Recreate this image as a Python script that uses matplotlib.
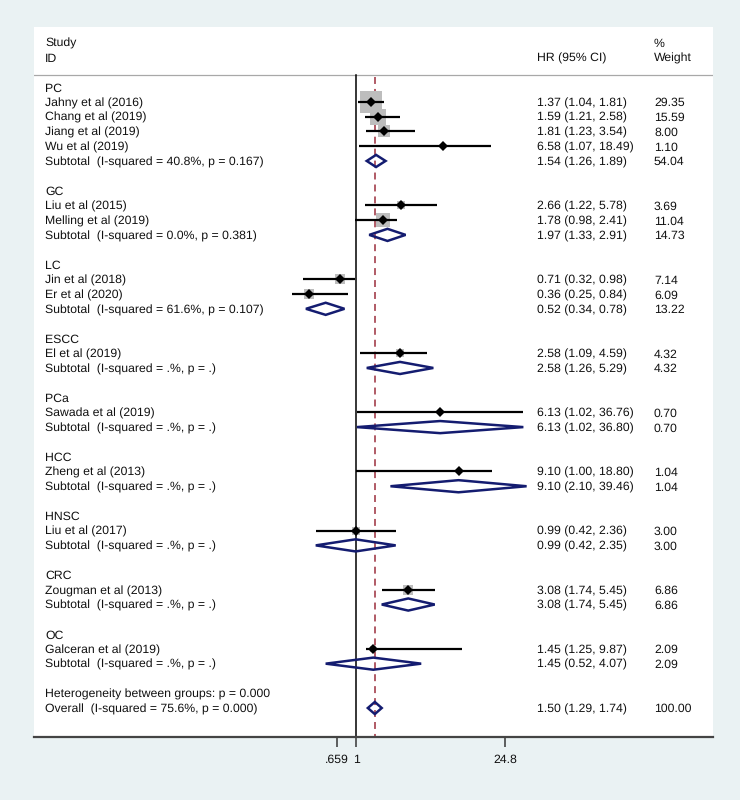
import numpy as np
import matplotlib.pyplot as plt
from matplotlib.patches import Polygon
from matplotlib.transforms import blended_transform_factory

plt.rcParams['font.family'] = ['Liberation Sans', 'DejaVu Sans']
plt.rcParams['lines.scale_dashes'] = False
plt.rcParams['text.hinting'] = 'no_hinting'

# --- data ---
groups = ['PC', 'GC', 'LC', 'ESCC', 'PCa', 'HCC', 'HNSC', 'CRC', 'OC']

study_group = ['PC', 'PC', 'PC', 'PC', 'GC', 'GC', 'LC', 'LC', 'ESCC',
               'PCa', 'HCC', 'HNSC', 'CRC', 'OC']
study_names = ['Jahny et al (2016)', 'Chang et al (2019)', 'Jiang et al (2019)',
               'Wu et al (2019)', 'Liu et al (2015)', 'Melling et al (2019)',
               'Jin et al (2018)', 'Er et al (2020)', 'El et al (2019)',
               'Sawada et al (2019)', 'Zheng et al (2013)', 'Liu et al (2017)',
               'Zougman et al (2013)', 'Galceran et al (2019)']
study_hr = [1.37, 1.59, 1.81, 6.58, 2.66, 1.78, 0.71, 0.36, 2.58, 6.13, 9.10, 0.99, 3.08, 1.45]
study_lo = [1.04, 1.21, 1.23, 1.07, 1.22, 0.98, 0.32, 0.25, 1.09, 1.02, 1.00, 0.42, 1.74, 1.25]
study_hi = [1.81, 2.58, 3.54, 18.49, 5.78, 2.41, 0.98, 0.84, 4.59, 36.76, 18.80, 2.36, 5.45, 9.87]
study_wt = [29.35, 15.59, 8.00, 1.10, 3.69, 11.04, 7.14, 6.09, 4.32, 0.70, 1.04, 3.00, 6.86, 2.09]

sub_i2 = ['40.8', '0.0', '61.6', '.', '.', '.', '.', '.', '.']
sub_p = ['0.167', '0.381', '0.107', '.', '.', '.', '.', '.', '.']
sub_hr = [1.54, 1.97, 0.52, 2.58, 6.13, 9.10, 0.99, 3.08, 1.45]
sub_lo = [1.26, 1.33, 0.34, 1.26, 1.02, 2.10, 0.42, 1.74, 0.52]
sub_hi = [1.89, 2.91, 0.78, 5.29, 36.80, 39.46, 2.35, 5.45, 4.07]
sub_wt = [54.04, 14.73, 13.22, 4.32, 0.70, 1.04, 3.00, 6.86, 2.09]

overall_hr, overall_lo, overall_hi = 1.50, 1.29, 1.74
overall_i2, overall_p, between_p = '75.6', '0.000', '0.000'

xticks = [0.659, 1, 24.8]
xticklabels = ['.659', '1', '24.8']
# ---------------------------------------

BG = '#eaf2f3'
NAVY = '#141c70'
RED = '#9b2d3c'
FS = 8.8

fig = plt.figure(figsize=(7.4, 8), dpi=100, facecolor=BG)
ax = fig.add_axes([34 / 740, 63 / 800, 679 / 740, 710 / 800])
ax.set_facecolor('white')
ax.set_xscale('log')
ax.set_xlim(0.00097, 2190)
n_rows = 43
ax.set_ylim(n_rows - 1 + 1.96, -4.06)

tr = blended_transform_factory(ax.transAxes, ax.transData)
x_id, x_hr, x_wt = 0.0162, 0.7408, 0.9131


def put(x, y, s):
    ax.text(x, y, s, transform=tr, fontsize=FS, va='center_baseline', ha='left', color='#111111')


def diamond(y, hr, lo, hi, h=0.41):
    poly = Polygon([(lo, y), (hr, y - h), (hi, y), (hr, y + h)], closed=True,
                   facecolor='none', edgecolor=NAVY, lw=1.8, zorder=4)
    ax.add_patch(poly)


# header
put(x_id, -3.03, 'Study')
put(x_id, -2.0, 'ID')
put(x_hr, -2.0, 'HR (95% CI)')
put(x_wt, -3.03, '%')
put(x_wt, -2.0, 'Weight')
sep = -0.81
ax.axhline(sep, color='#a8a8a8', lw=0.9, zorder=1)

ybot = n_rows - 1 + 1.96
ax.plot([1, 1], [sep, ybot], color='black', lw=1.1, zorder=2)
ax.plot([overall_hr, overall_hr], [-0.68, ybot], color=RED, lw=1.1,
        linestyle=(0, (5, 3.6)), zorder=1)

row = 0
box_max = 22 * 0.72
for gi, g in enumerate(groups):
    put(x_id, row, g)
    row += 1
    for i, sg in enumerate(study_group):
        if sg != g:
            continue
        put(x_id, row, study_names[i])
        put(x_hr, row, f'{study_hr[i]:.2f} ({study_lo[i]:.2f}, {study_hi[i]:.2f})')
        put(x_wt, row, f'{study_wt[i]:.2f}')
        side = box_max * np.sqrt(study_wt[i] / max(study_wt))
        ax.plot(study_hr[i], row, marker='s', ms=side, color='#bdbdbd', mew=0, zorder=3)
        ax.plot([study_lo[i], study_hi[i]], [row, row], color='black', lw=1.6,
                solid_capstyle='butt', zorder=5)
        ax.plot(study_hr[i], row, marker='D', ms=4.8, color='black', mew=0, zorder=6)
        row += 1
    put(x_id, row, f'Subtotal  (I-squared = {sub_i2[gi]}%, p = {sub_p[gi]})')
    put(x_hr, row, f'{sub_hr[gi]:.2f} ({sub_lo[gi]:.2f}, {sub_hi[gi]:.2f})')
    put(x_wt, row, f'{sub_wt[gi]:.2f}')
    diamond(row, sub_hr[gi], sub_lo[gi], sub_hi[gi])
    row += 2

put(x_id, row, f'Heterogeneity between groups: p = {between_p}')
row += 1
put(x_id, row, f'Overall  (I-squared = {overall_i2}%, p = {overall_p})')
put(x_hr, row, f'{overall_hr:.2f} ({overall_lo:.2f}, {overall_hi:.2f})')
put(x_wt, row, '100.00')
diamond(row, overall_hr, overall_lo, overall_hi)

for s in ['top', 'left', 'right']:
    ax.spines[s].set_visible(False)
ax.spines['bottom'].set_color('#444444')
ax.spines['bottom'].set_linewidth(1.6)
ax.set_yticks([])
ax.minorticks_off()
ax.set_xticks(xticks)
ax.set_xticklabels(xticklabels)
ax.tick_params(axis='x', which='major', length=7.2, width=1.2, color='#444444',
               labelsize=FS, pad=5, labelcolor='#111111')
ax.tick_params(axis='x', which='minor', length=0)

fig.savefig('out.png', dpi=100, facecolor=BG)
